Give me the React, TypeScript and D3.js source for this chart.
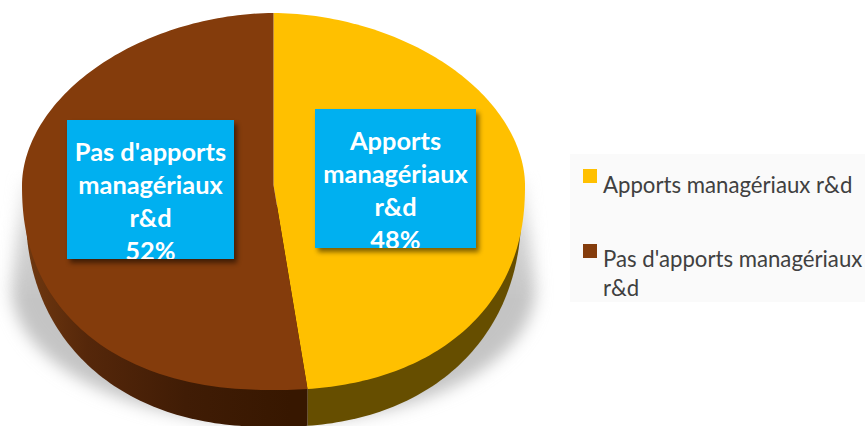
import React from "react";
import * as d3 from "d3";

const categories = ["Apports managériaux r&d", "Pas d'apports managériaux r&d"];
const values = [47.85, 52.15];
const faceColors = ["#FFC000", "#843C0C"];
const boxLines = [
  ["Apports", "managériaux", "r&d", "48%"],
  ["Pas d'apports", "managériaux", "r&d", "52%"],
];
const boxRects = [
  { x: 315, y: 109, w: 161, h: 139, base: 150 },
  { x: 67, y: 120, w: 167, h: 139, base: 161 },
];
const legendLines = [["Apports managériaux r&d"], ["Pas d'apports managériaux", "r&d"]];
const legendY = [169, 244];
const legendBase = [193, 267];

const W = 865, H = 426;
const cx = 273.5, cy = 185, rx = 251.5, ryTop = 172, ryBot = 205;

// point on a super-ellipse reached by a ray at angle a (clockwise from 12 o'clock)
const ray = (a: number, n: number) => {
  const s = Math.sin(a), c = Math.cos(a);
  const t = 1 / Math.pow(Math.pow(Math.abs(s), n) + Math.pow(Math.abs(c), n), 1 / n);
  return [s * t, c * t];
};
const project = (a: number): [number, number] => {
  const up = Math.cos(a) > 0;
  const [s, c] = ray(a, up ? 1.9 : 2.25);
  return [cx + rx * s, cy - (up ? ryTop : ryBot) * c];
};
const sample = (a0: number, a1: number) =>
  d3.range(0, 161).map((i) => project(a0 + ((a1 - a0) * i) / 160));

// outline of the pie's lower rim
const rim = () =>
  d3.range(0, 161).map((i): [number, number] => {
    const [s, c] = ray(Math.PI / 2 + (Math.PI * i) / 160, 2.25);
    return [cx + 248 * s, cy + 20 - 222 * c];
  });

// cast shadow: flared sides, rounded bottom
const shadowOutline = () => {
  const low = d3.range(0, 121).map((i): [number, number] => {
    const a = Math.PI / 2 + (Math.PI * i) / 120;
    return [cx + 262 * Math.sin(a), 288 - 135 * Math.cos(a)];
  });
  return [[524, 178] as [number, number], ...low, [23, 178] as [number, number]];
};

export default function App() {
  const arcs = d3.pie<number>().sort(null)(values);
  const line = d3.line();
  const splitX = project(arcs[0].endAngle)[0];
  const rimPath = line(rim())! + "Z";
  return (
    <svg width={W} height={H} style={{ position: "absolute", left: 0, top: 0, background: "#fff" }}>
      <defs>
        <filter id="blur" x="-20%" y="-20%" width="140%" height="140%">
          <feGaussianBlur stdDeviation="8" />
        </filter>
        <filter id="boxShadow" x="-20%" y="-20%" width="140%" height="140%">
          <feGaussianBlur stdDeviation="2.5" />
        </filter>
        <linearGradient id="fade" gradientUnits="userSpaceOnUse" x1="0" y1="175" x2="0" y2="300">
          <stop offset="0" stopColor="#fff" stopOpacity="0.25" />
          <stop offset="0.5" stopColor="#fff" stopOpacity="0.75" />
          <stop offset="1" stopColor="#fff" stopOpacity="1" />
        </linearGradient>
        <mask id="shadowMask" maskUnits="userSpaceOnUse" x="0" y="170" width={W} height={H}>
          <rect x="0" y="170" width={W} height={H} fill="url(#fade)" />
        </mask>
        <linearGradient id="brownWall" gradientUnits="userSpaceOnUse" x1="30" y1="0" x2="290" y2="0">
          <stop offset="0" stopColor="#6E370F" />
          <stop offset="0.22" stopColor="#55270A" />
          <stop offset="0.6" stopColor="#401C05" />
          <stop offset="1" stopColor="#371700" />
        </linearGradient>
        <clipPath id="wallLeft">
          <rect x={0} y={0} width={splitX} height={H} />
        </clipPath>
        <clipPath id="wallRight">
          <rect x={splitX} y={0} width={W - splitX} height={H} />
        </clipPath>
        {boxRects.map((b, i) => (
          <clipPath id={`clip${i}`} key={i}>
            <rect x={b.x} y={b.y} width={b.w} height={b.h} />
          </clipPath>
        ))}
      </defs>

      <g mask="url(#shadowMask)">
        <path d={line(shadowOutline())! + "Z"} fill="#c4c4c4" filter="url(#blur)" />
      </g>

      <path d={rimPath} fill="#664E00" clipPath="url(#wallRight)" />
      <path d={rimPath} fill="url(#brownWall)" clipPath="url(#wallLeft)" />

      {arcs.map((d, i) => (
        <path key={i} d={line([[cx, cy], ...sample(d.startAngle, d.endAngle)])! + "Z"} fill={faceColors[i]} />
      ))}

      {boxRects.map((b, i) => (
        <g key={i}>
          <rect x={b.x + 3} y={b.y + 4} width={b.w} height={b.h} fill="#000" opacity={0.5} filter="url(#boxShadow)" />
          <rect x={b.x} y={b.y} width={b.w} height={b.h} fill="#00B0F0" />
          <g clipPath={`url(#clip${i})`}>
            {boxLines[i].map((t, j) => (
              <text
                key={j}
                x={b.x + b.w / 2}
                y={b.base + j * 33 - (j === 3 ? 0.5 : 0)}
                textAnchor="middle"
                fontFamily="Lato"
                fontWeight={700}
                fontSize={25.4}
                fill="#fff"
              >
                {t}
              </text>
            ))}
          </g>
        </g>
      ))}

      <rect x={570} y={154} width={295} height={148} fill="#FAFAFA" />
      {categories.map((c, i) => (
        <g key={c}>
          <rect x={583} y={legendY[i]} width={14} height={14} fill={faceColors[i]} />
          {legendLines[i].map((t, j) => (
            <text key={j} x={603} y={legendBase[i] + j * 29} fontFamily="Lato" fontSize={22.2} fill="#404040">
              {t}
            </text>
          ))}
        </g>
      ))}
    </svg>
  );
}
